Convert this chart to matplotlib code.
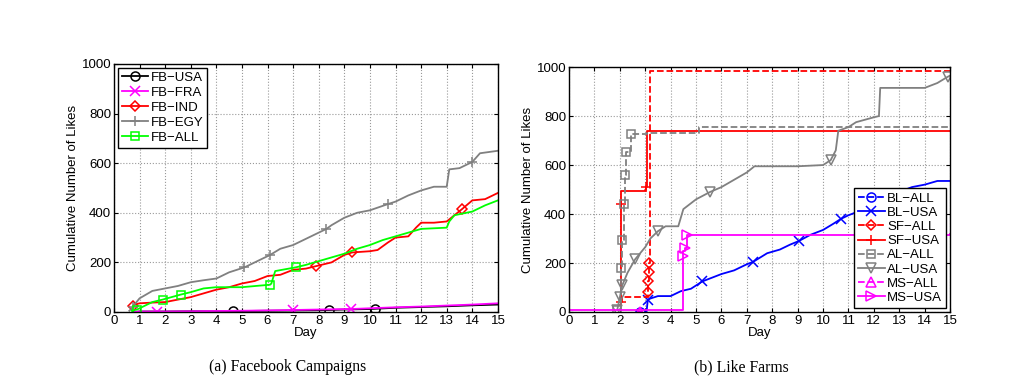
import numpy as np
import matplotlib
matplotlib.use('Agg')
import matplotlib.pyplot as plt

plt.rcParams['font.family'] = ['Liberation Sans', 'DejaVu Sans']

# ---- (a) Facebook Campaigns ----
usa_x = [0.8, 1, 2, 3, 4, 4.65, 5, 6, 7, 8, 8.4, 9, 10, 10.2, 11, 12, 13, 14, 15]
usa_y = [0, 2, 2, 3, 3, 3, 4, 5, 6, 7, 8, 10, 12, 13, 17, 20, 23, 27, 30]
usa_mk = [4.65, 8.4, 10.2]

fra_x = [0.8, 1, 1.7, 3, 5, 7, 8, 9.25, 10, 11, 12, 13, 14, 15]
fra_y = [0, 2, 2, 3, 5, 8, 10, 12, 15, 19, 22, 26, 30, 35]
fra_mk = [1.7, 7, 9.25]

ind_x = [0.7, 0.75, 0.8, 1, 1.5, 2, 2.5, 3, 3.5, 4, 4.5, 5, 5.5, 6, 6.5, 7, 7.5,
         7.9, 8.5, 9, 9.3, 10, 10.3, 10.7, 11, 11.5, 11.8, 12, 12.5, 13, 13.3,
         13.6, 14, 14.5, 15]
ind_y = [10, 25, 30, 35, 38, 40, 50, 60, 75, 90, 100, 115, 125, 145, 150, 170,
         175, 185, 200, 230, 240, 245, 250, 280, 300, 305, 340, 360, 360, 365,
         390, 415, 450, 455, 480]
ind_mk = [0.75, 7.9, 9.3, 13.6]

egy_x = [0.6, 0.75, 0.8, 1, 1.5, 2, 2.5, 3, 3.5, 4, 4.5, 5.1, 5.5, 6.1, 6.5, 7,
         7.5, 8.3, 8.5, 9, 9.5, 10, 10.7, 11, 11.5, 12, 12.5, 13, 13.1, 13.5, 14,
         14.3, 15]
egy_y = [5, 20, 30, 55, 85, 95, 105, 120, 128, 135, 160, 180, 200, 230, 255, 270,
         295, 335, 350, 380, 400, 410, 435, 445, 470, 490, 505, 505, 575, 580,
         605, 640, 650]
egy_mk = [0.75, 5.1, 6.1, 8.3, 10.7, 14]

all_x = [0.7, 0.9, 1.5, 1.9, 2.6, 3, 3.5, 4, 5, 6.1, 6.15, 6.3, 7.1, 7.5, 8, 8.5,
         9, 9.5, 10, 10.5, 11, 11.5, 12, 13, 13.1, 13.3, 14, 14.5, 15]
all_y = [5, 10, 40, 50, 70, 80, 95, 100, 100, 110, 115, 165, 180, 190, 205, 220,
         235, 255, 270, 290, 305, 320, 335, 340, 365, 390, 405, 430, 450]
all_mk = [0.9, 1.9, 2.6, 6.1, 7.1]

# ---- (b) Like Farms ----
blall_x = [2.7, 2.8, 2.9]
blall_y = [0, 0, 1]
blall_mk = [2.8]

blusa_x = [3.05, 3.1, 3.2, 3.5, 4, 4.4, 4.8, 5.25, 5.5, 6, 6.5, 7, 7.25, 7.8, 8.3,
           8.7, 9.05, 9.5, 10, 10.4, 10.7, 11, 11.5, 12, 12.8, 13, 13.5, 14, 14.5, 15]
blusa_y = [0, 50, 55, 65, 65, 85, 95, 125, 135, 155, 170, 195, 205, 240, 255, 275,
           290, 315, 335, 360, 380, 395, 415, 445, 480, 490, 510, 520, 535, 535]
blusa_mk = [3.1, 5.25, 7.25, 9.05, 10.7, 12.8]

sfall_x = [2.0, 2.1, 3.1, 3.11, 3.12, 3.13, 3.14, 3.2, 15]
sfall_y = [40, 60, 60, 80, 125, 165, 200, 985, 985]
sfall_mk = [3.11, 3.12, 3.13, 3.14]

sfusa_x = [2.0, 2.03, 2.05, 2.06, 3.0, 3.02, 3.05, 15]
sfusa_y = [30, 40, 440, 495, 500, 510, 740, 740]
sfusa_mk = [2.03, 2.05, 3.02]

alall_x = [1.9, 2.05, 2.1, 2.15, 2.2, 2.25, 2.45, 3.05, 5.1, 15]
alall_y = [10, 180, 295, 440, 560, 655, 725, 730, 755, 755]
alall_mk = [1.9, 2.05, 2.1, 2.15, 2.2, 2.25, 2.45]

alusa_x = [1.9, 2.0, 2.1, 2.3, 2.6, 3, 3.2, 3.5, 3.8, 4.3, 4.5, 5, 5.55, 6, 6.5,
           7, 7.3, 8, 9, 10, 10.3, 10.5, 10.6, 11, 11.3, 12, 12.2, 12.25, 13, 14,
           14.5, 14.9, 15]
alusa_y = [10, 60, 110, 160, 215, 265, 300, 330, 350, 350, 420, 460, 490, 510, 540,
           570, 595, 595, 595, 600, 620, 660, 740, 755, 775, 795, 800, 915, 915,
           915, 935, 960, 965]
alusa_mk = [1.9, 2.0, 2.1, 2.6, 3.5, 5.55, 10.3, 14.9]

msall_x = [2.7, 2.8, 2.9]
msall_y = [0, 0, 1]
msall_mk = [2.8]

msusa_x = [0, 4.45, 4.47, 4.5, 4.55, 4.65, 15]
msusa_y = [10, 10, 230, 250, 260, 315, 318]
msusa_mk = [4.47, 4.55, 4.65]

GRAY = (0.5, 0.5, 0.5)
FS = 9.5


def marks(x, m):
    x = np.asarray(x)
    return [int(np.argmin(np.abs(x - v))) for v in m]


def series(ax, x, y, mk, color, marker, label, ls='-', steps=True):
    ms = {'D': 5, 's': 5.5}.get(marker, 6.5)
    ax.plot(x, y, ls, color=color, marker=marker, markevery=marks(x, mk),
            markerfacecolor='none', markeredgecolor=color, markersize=ms,
            markeredgewidth=1.1, linewidth=1.3, label=label,
            drawstyle='steps-post' if steps else 'default')


def style(ax):
    ax.set_xlim(0, 15)
    ax.set_ylim(0, 1000)
    ax.set_xticks(range(16))
    ax.set_yticks(range(0, 1001, 200))
    ax.tick_params(direction='in', length=3, labelsize=FS, pad=2,
                   top=True, right=True)
    ax.grid(True, linestyle=':', color='0.6', linewidth=0.8)
    for s in ax.spines.values():
        s.set_linewidth(1.0)
    ax.set_xlabel('Day', fontsize=FS, labelpad=0)
    ax.set_ylabel('Cumulative Number of Likes', fontsize=FS, labelpad=2)


def legend(ax, loc, spacing):
    leg = ax.legend(loc=loc, fontsize=FS, fancybox=False, edgecolor='black',
                    framealpha=1, handlelength=2.0, labelspacing=spacing,
                    borderpad=0.3, handletextpad=0.2, borderaxespad=0.3)
    leg.get_frame().set_linewidth(1.0)


fig = plt.figure(figsize=(10.12, 3.9), dpi=100)
ax1 = fig.add_axes([0.1126, 0.2, 0.3794, 0.636])
ax2 = fig.add_axes([0.5623, 0.2, 0.3765, 0.628])

series(ax1, usa_x, usa_y, usa_mk, 'black', 'o', 'FB\u2212USA', steps=False)
series(ax1, fra_x, fra_y, fra_mk, (1, 0, 1), 'x', 'FB\u2212FRA', steps=False)
series(ax1, ind_x, ind_y, ind_mk, 'red', 'D', 'FB\u2212IND', steps=False)
series(ax1, egy_x, egy_y, egy_mk, GRAY, '+', 'FB\u2212EGY', steps=False)
series(ax1, all_x, all_y, all_mk, (0, 1, 0), 's', 'FB\u2212ALL', steps=False)
style(ax1)
legend(ax1, 'upper left', 0.2)

series(ax2, blall_x, blall_y, blall_mk, 'blue', 'o', 'BL\u2212ALL', ls='--')
series(ax2, blusa_x, blusa_y, blusa_mk, 'blue', 'x', 'BL\u2212USA', steps=False)
series(ax2, sfall_x, sfall_y, sfall_mk, 'red', 'D', 'SF\u2212ALL', ls='--')
series(ax2, sfusa_x, sfusa_y, sfusa_mk, 'red', '+', 'SF\u2212USA')
series(ax2, alall_x, alall_y, alall_mk, GRAY, 's', 'AL\u2212ALL', ls='--')
series(ax2, alusa_x, alusa_y, alusa_mk, GRAY, 'v', 'AL\u2212USA', steps=False)
series(ax2, msall_x, msall_y, msall_mk, (1, 0, 1), '^', 'MS\u2212ALL', ls='--')
series(ax2, msusa_x, msusa_y, msusa_mk, (1, 0, 1), '>', 'MS\u2212USA')
style(ax2)
legend(ax2, 'lower right', 0.15)

fig.text(0.284, 0.058, '(a) Facebook Campaigns', ha='center', va='center',
         family='Liberation Serif', fontsize=11.3)
fig.text(0.733, 0.058, '(b) Like Farms', ha='center', va='center',
         family='Liberation Serif', fontsize=11.3)

fig.savefig('out.png', dpi=100)
